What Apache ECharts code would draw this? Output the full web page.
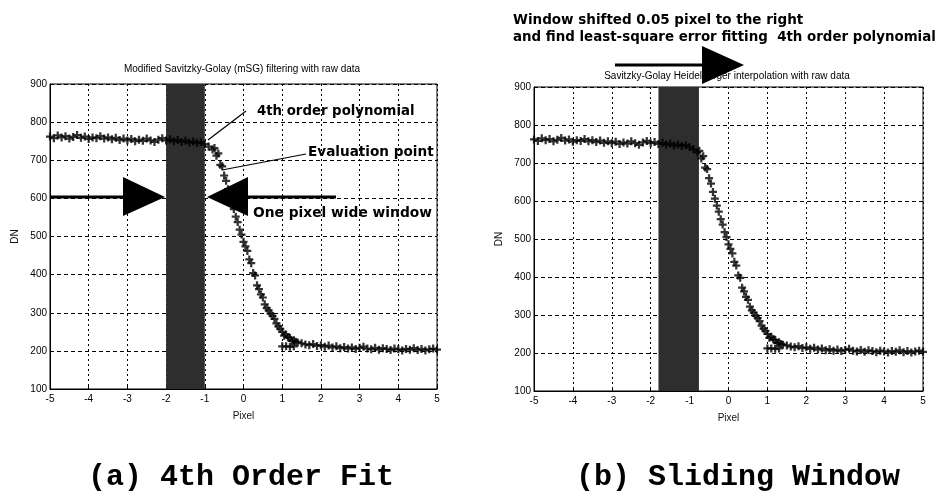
<!DOCTYPE html>
<html>
<head>
<meta charset="utf-8">
<script src="https://cdn.jsdelivr.net/npm/echarts@6/dist/echarts.min.js"></script>
<style>
  html, body { margin: 0; padding: 0; background: #fff; }
  #chart { width: 942px; height: 492px; }
</style>
</head>
<body>
<div id="chart"></div>
<script>
// Raw edge profile: digital number (DN) sampled across the edge, in pixels
const PIXEL = [
  -5.0, -4.9, -4.8, -4.7, -4.6, -4.5, -4.4, -4.3, -4.2, -4.1,
  -4.0, -3.9, -3.8, -3.7, -3.6, -3.5, -3.4, -3.3, -3.2, -3.1,
  -3.0, -2.9, -2.8, -2.7, -2.6, -2.5, -2.4, -2.3, -2.2, -2.1,
  -2.0, -1.9, -1.8, -1.7, -1.6, -1.5, -1.4, -1.3, -1.2, -1.1,
  -1.0, -0.9, -0.8, -0.7, -0.6, -0.5, -0.4, -0.3, -0.2, -0.1,
   0.0,  0.1,  0.2,  0.3,  0.4,  0.5,  0.6,  0.7,  0.8,  0.9,
   1.0,  1.1,  1.2,  1.3,  1.4,  1.5,  1.6,  1.7,  1.8,  1.9,
   2.0,  2.1,  2.2,  2.3,  2.4,  2.5,  2.6,  2.7,  2.8,  2.9,
   3.0,  3.1,  3.2,  3.3,  3.4,  3.5,  3.6,  3.7,  3.8,  3.9,
   4.0,  4.1,  4.2,  4.3,  4.4,  4.5,  4.6,  4.7,  4.8,  4.9,
   5.0
];
const DN = [
  762, 758, 765, 760, 763, 757, 761, 766, 759, 762,
  756, 760, 758, 763, 757, 760, 755, 759, 753, 757,
  752, 756, 750, 754, 751, 757, 752, 748, 754, 758,
  752, 755, 750, 753, 748, 751, 746, 749, 745, 747,
  742, 736, 728, 712, 688, 660, 624, 588, 552, 518,
  486, 462, 430, 398, 362, 340, 312, 298, 284, 264,
  250, 243, 234, 228, 222, 220, 217, 215, 218, 213,
  215, 211, 214, 209, 212, 207, 210, 206, 209, 205,
  208, 211, 206, 204, 208, 203, 207, 205, 202, 206,
  204, 201, 205, 203, 207, 202, 205, 201, 204, 206,
  203
];
// Extra samples between the main grid along the transition
const EDGE_PIXEL = [
  -0.75, -0.65, -0.55, -0.45, -0.35, -0.25, -0.15, -0.05, 0.05, 0.15,
   0.25,  0.35,  0.45,  0.55,  0.65,  0.75,  0.85,  0.95, 1.05, 1.15,
   1.25,  1.35,  1.0,   1.1,   1.2,   1.3
];
const EDGE_DN = [
  732, 718, 684, 646, 606, 572, 538, 505, 474, 440,
  404, 372, 348, 322, 306, 292, 272, 258, 240, 236,
  226, 224, 212, 212, 211, 212
];
// Fitting windows (pixel range) for each panel
const WINDOW_A = [-2.0, -1.0];
const WINDOW_B = [-1.8, -0.76];
// Axis ranges
const X_RANGE = [-5, 5];
const Y_RANGE = [100, 900];

const FONT = 'Liberation Sans, Arial, sans-serif';
const BOLD = 'DejaVu Sans, Liberation Sans, sans-serif';
const CROSS = 'path://M3.6,0H6.4V3.6H10V6.4H6.4V10H3.6V6.4H0V3.6H3.6Z';

const points = PIXEL.map((p, i) => [p, DN[i]]).concat(EDGE_PIXEL.map((p, i) => [p, EDGE_DN[i]]));

function xAxisFor(gi) {
  return {
    gridIndex: gi, type: 'value', min: X_RANGE[0], max: X_RANGE[1], interval: 1,
    name: 'Pixel', nameLocation: 'middle', nameGap: 22,
    nameTextStyle: { color: '#111', fontSize: 10, fontFamily: FONT },
    axisLine: { show: true, onZero: false, lineStyle: { color: '#000', width: 1 } },
    axisTick: { show: true, inside: true, length: 4, lineStyle: { color: '#000' } },
    axisLabel: { color: '#000', fontSize: 10, fontFamily: FONT, margin: 5 },
    splitLine: { show: true, lineStyle: { color: '#000', width: 1, type: [2, 3] } }
  };
}
function yAxisFor(gi) {
  return {
    gridIndex: gi, type: 'value', min: Y_RANGE[0], max: Y_RANGE[1], interval: 100,
    name: 'DN', nameLocation: 'middle', nameGap: 30,
    nameTextStyle: { color: '#111', fontSize: 10, fontFamily: FONT },
    axisLine: { show: true, onZero: false, lineStyle: { color: '#000', width: 1 } },
    axisTick: { show: true, inside: true, length: 4, lineStyle: { color: '#000' } },
    axisLabel: { color: '#000', fontSize: 10, fontFamily: FONT, margin: 3 },
    splitLine: { show: true, lineStyle: { color: '#000', width: 1, type: [4, 3] } }
  };
}
function seriesFor(gi, win) {
  return {
    type: 'scatter', xAxisIndex: gi, yAxisIndex: gi,
    symbol: CROSS, symbolSize: 8,
    itemStyle: { color: '#000' },
    data: points, silent: true, animation: false,
    markArea: {
      silent: true,
      itemStyle: { color: '#2e2e2e', opacity: 1 },
      data: [[{ xAxis: win[0], yAxis: Y_RANGE[0] }, { xAxis: win[1], yAxis: Y_RANGE[1] }]]
    }
  };
}

function label(text, x, y, font, align) {
  return {
    type: 'text', x: x, y: y, z: 100,
    style: { text: text, font: font, fill: '#000', textAlign: align || 'left', textVerticalAlign: 'middle' }
  };
}
function seg(pts, w) {
  return { type: 'polyline', z: 100, shape: { points: pts }, style: { stroke: '#000', lineWidth: w, fill: null } };
}
function tri(pts) {
  return { type: 'polygon', z: 100, shape: { points: pts }, style: { fill: '#000' } };
}

const chart = echarts.init(document.getElementById('chart'), null, { renderer: 'canvas' });
chart.setOption({
  backgroundColor: '#fff',
  animation: false,
  grid: [
    { left: 50, top: 84, width: 387, height: 305, show: true, borderColor: '#000', borderWidth: 1, backgroundColor: 'transparent' },
    { left: 534, top: 87, width: 389, height: 304, show: true, borderColor: '#000', borderWidth: 1, backgroundColor: 'transparent' }
  ],
  xAxis: [xAxisFor(0), xAxisFor(1)],
  yAxis: [yAxisFor(0), yAxisFor(1)],
  series: [seriesFor(0, WINDOW_A), seriesFor(1, WINDOW_B)],
  graphic: [
    // panel titles
    label('Modified Savitzky-Golay (mSG) filtering with raw data', 242, 69, '10px ' + FONT, 'center'),
    label('Savitzky-Golay Heidelberger interpolation with raw data', 727, 76, '10px ' + FONT, 'center'),
    // panel (a) annotations
    label('4th order polynomial', 257, 112, 'bold 13.3px ' + BOLD),
    seg([[246, 111], [208, 140]], 1.2),
    label('Evaluation point', 308, 152, 'bold 13.6px ' + BOLD),
    seg([[306, 154], [222, 170]], 1.2),
    seg([[50, 197], [126, 197]], 3),
    tri([[123, 177], [165, 197], [123, 216]]),
    seg([[245, 197], [336, 197]], 3),
    tri([[207, 197], [248, 177], [248, 216]]),
    label('One pixel wide window', 253, 213, 'bold 13.8px ' + BOLD),
    // panel (b) annotations
    label('Window shifted 0.05 pixel to the right', 513, 20, 'bold 13.5px ' + BOLD),
    label('and find least-square error fitting  4th order polynomial', 513, 38, 'bold 13.4px ' + BOLD),
    seg([[615, 65], [705, 65]], 3),
    tri([[702, 46], [744, 65], [702, 84]]),
    // captions
    label('(a) 4th Order Fit', 241, 477, 'bold 30px Liberation Mono, monospace', 'center'),
    label('(b) Sliding Window', 738, 477, 'bold 30px Liberation Mono, monospace', 'center')
  ]
});
</script>
</body>
</html>
